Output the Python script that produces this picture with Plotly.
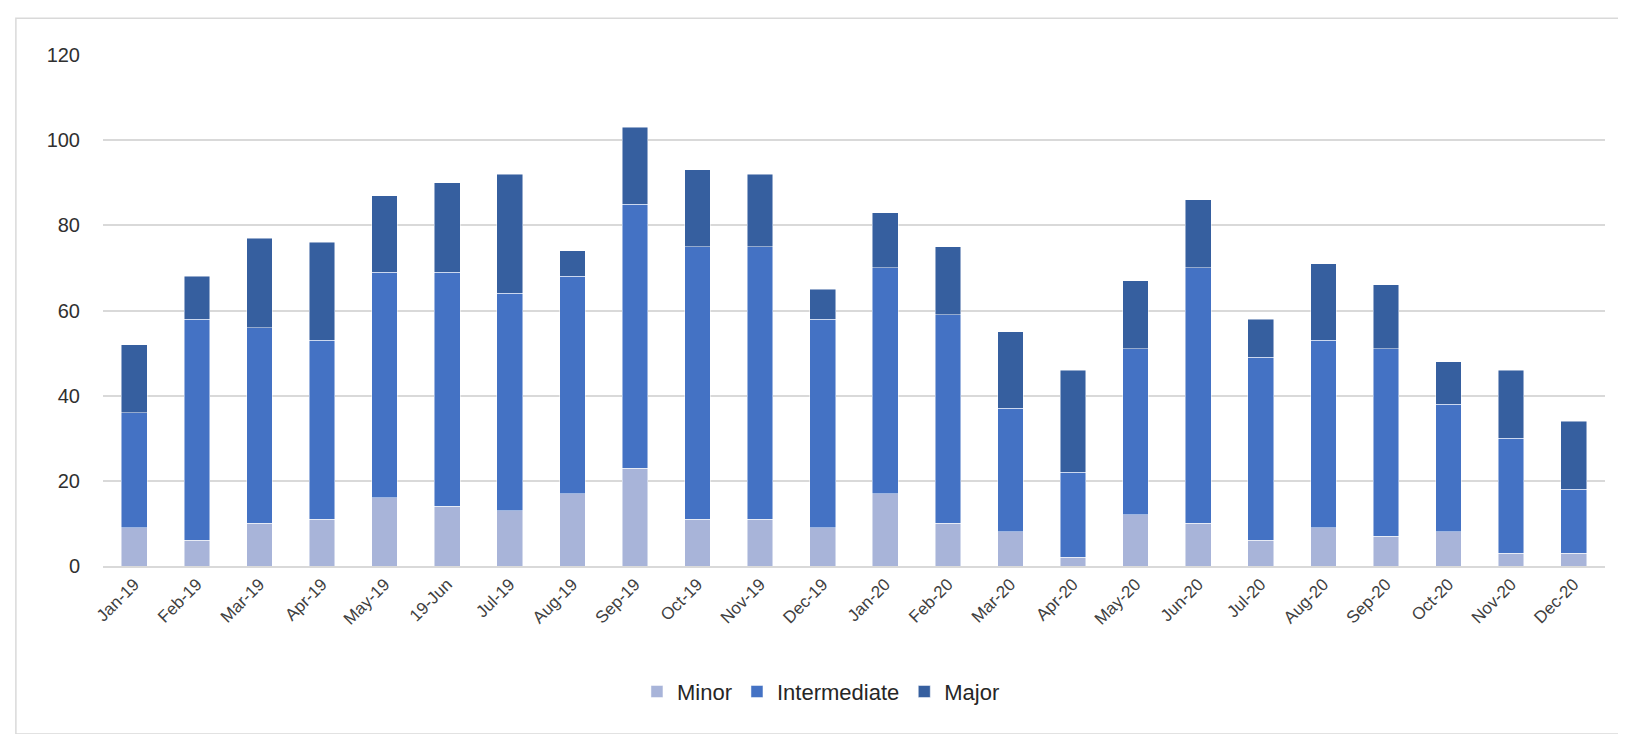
import plotly.graph_objects as go

months = ['Jan-19', 'Feb-19', 'Mar-19', 'Apr-19', 'May-19', '19-Jun', 'Jul-19', 'Aug-19',
          'Sep-19', 'Oct-19', 'Nov-19', 'Dec-19', 'Jan-20', 'Feb-20', 'Mar-20', 'Apr-20',
          'May-20', 'Jun-20', 'Jul-20', 'Aug-20', 'Sep-20', 'Oct-20', 'Nov-20', 'Dec-20']
minor = [9, 6, 10, 11, 16, 14, 13, 17, 23, 11, 11, 9, 17, 10, 8, 2, 12, 10, 6, 9, 7, 8, 3, 3]
intermediate = [27, 52, 46, 42, 53, 55, 51, 51, 62, 64, 64, 49, 53, 49, 29, 20, 39, 60, 43, 44, 44, 30, 27, 15]
major = [16, 10, 21, 23, 18, 21, 28, 6, 18, 18, 17, 7, 13, 16, 18, 24, 16, 16, 9, 18, 15, 10, 16, 16]

fig = go.Figure()
for name, vals, col in [('Minor', minor, '#A8B4D9'),
                        ('Intermediate', intermediate, '#4472C4'),
                        ('Major', major, '#365F9F')]:
    fig.add_trace(go.Bar(x=months, y=vals, name=name, marker_color=col,
                         marker_line=dict(color='rgba(255,255,255,0.6)', width=0.8)))

fig.update_layout(
    barmode='stack',
    bargap=0.59,
    width=1626, height=734,
    margin=dict(l=95, r=29, t=47, b=176),
    plot_bgcolor='white',
    paper_bgcolor='white',
    font=dict(family='Liberation Sans, Arial', size=16, color='#404040'),
    xaxis=dict(tickangle=-45, showgrid=False, showline=True, linecolor='#D9D9D9',
               linewidth=1.5, ticks='', tickfont=dict(size=17, color='#404040')),
    yaxis=dict(range=[0, 120], dtick=20, gridcolor='#D9D9D9', gridwidth=1.5,
               zeroline=False, ticks='', tickfont=dict(size=20, color='#303030'),
               ticklabelstandoff=22),
    legend=dict(orientation='h', x=0.478, xanchor='center', y=-0.246, yanchor='middle',
                font=dict(size=22, color='#262626'), traceorder='normal'),
    shapes=[dict(type='rect', xref='paper', yref='paper', x0=-0.058, x1=1.014,
                 y0=-0.329, y1=1.072, line=dict(color='#D9D9D9', width=1.5))]
)

fig.write_html('out.html')
